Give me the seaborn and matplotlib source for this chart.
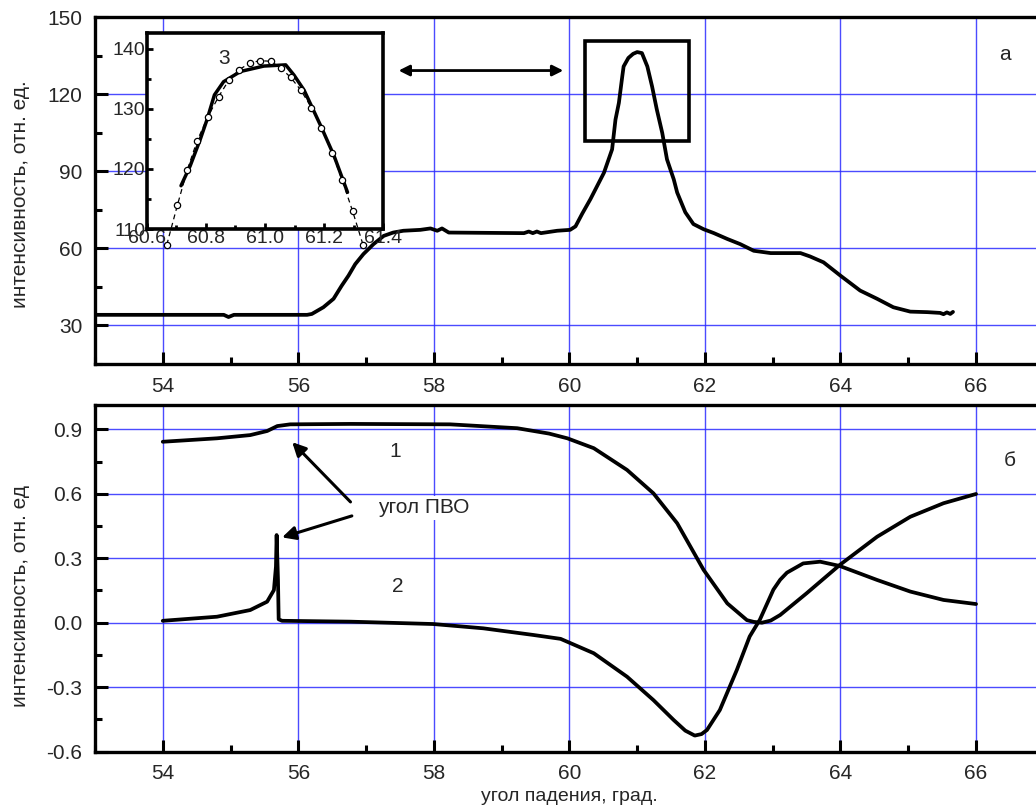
import matplotlib
matplotlib.use("Agg")
import matplotlib.pyplot as plt
from matplotlib.ticker import MultipleLocator, FixedLocator
from matplotlib.patches import Rectangle
import seaborn as sns

# ---------------- data ----------------
top_x = [53.0, 54.9, 54.97, 55.05, 56.13, 56.2, 56.37, 56.52, 56.64, 56.74, 56.84, 56.96,
         57.11, 57.26, 57.40, 57.55, 57.80, 57.95, 58.05, 58.12, 58.22, 59.33, 59.40, 59.46,
         59.52, 59.58, 59.82, 60.01, 60.09, 60.19, 60.31, 60.51, 60.63, 60.68, 60.73, 60.78,
         60.80, 60.87, 60.94, 61.0, 61.07, 61.15, 61.22, 61.29, 61.37, 61.44, 61.54, 61.59, 61.71,
         61.83, 61.98, 62.13, 62.33, 62.52, 62.72, 62.97, 63.41, 63.55, 63.75, 64.0, 64.29,
         64.54, 64.78, 65.03, 65.28, 65.47, 65.52, 65.57, 65.62, 65.66]
top_y = [34.15, 34.15, 33.3, 34.15, 34.15, 34.5, 37.1, 40.4, 45.5, 49.4, 53.9, 57.8,
         61.7, 64.9, 66.2, 66.9, 67.25, 67.8, 66.9, 67.8, 66.2, 65.97, 66.6, 65.97,
         66.6, 65.97, 66.9, 67.25, 68.6, 73.6, 79.2, 89.5, 98.6, 110.2, 116.7, 127.0,
         130.9, 134.2, 135.8, 136.5, 136.1, 130.9, 123.1, 114.1, 105.0, 94.7, 86.9, 81.8, 74.1,
         69.5, 67.5, 66.0, 63.7, 61.7, 59.1, 58.2, 58.2, 56.9, 54.6, 49.4, 43.6,
         40.4, 37.1, 35.4, 35.2, 34.9, 34.4, 35.1, 34.5, 35.3]

inset_meas_x = [60.668, 60.704, 60.737, 60.770, 60.807, 60.843, 60.877, 60.913, 60.948, 60.983,
                61.019, 61.053, 61.087, 61.121, 61.157, 61.191, 61.227, 61.261, 61.296, 61.332]
inset_meas_y = [107.4, 114.0, 119.8, 124.6, 128.7, 132.0, 134.7, 136.5, 137.6, 138.0,
                137.9, 136.8, 135.2, 133.1, 130.2, 126.8, 122.7, 118.1, 113.0, 107.3]
inset_fit_x = [60.716, 60.747, 60.781, 60.804, 60.829, 60.860, 60.917, 60.996, 61.070,
               61.098, 61.132, 61.189, 61.234, 61.279]
inset_fit_y = [117.2, 120.5, 124.9, 128.2, 132.3, 134.5, 136.2, 137.1, 137.3,
               135.6, 133.1, 127.1, 122.1, 116.1]

r1_x = [54.0, 54.80, 55.29, 55.54, 55.69, 55.88, 56.77, 58.24, 59.23, 59.70, 59.97, 60.36,
        60.85, 61.24, 61.59, 61.98, 62.33, 62.62, 62.72, 62.84, 62.97, 63.11, 63.50, 63.99,
        64.54, 65.03, 65.52, 66.0]
r1_y = [0.842, 0.858, 0.873, 0.892, 0.915, 0.923, 0.925, 0.923, 0.905, 0.880, 0.858, 0.812,
        0.711, 0.602, 0.463, 0.246, 0.090, 0.012, 0.004, 0.0, 0.010, 0.036, 0.137, 0.269,
        0.400, 0.493, 0.556, 0.599]

r2_x = [54.0, 54.80, 55.29, 55.54, 55.64, 55.67, 55.68, 55.70, 55.71, 55.76, 56.77, 57.99,
        58.73, 59.47, 59.87, 60.36, 60.85, 61.24, 61.54, 61.71, 61.85, 61.95, 62.03, 62.22,
        62.47, 62.66, 62.81, 63.01, 63.11, 63.21, 63.45, 63.70, 63.99, 64.54, 65.03, 65.52, 66.0]
r2_y = [0.009, 0.028, 0.059, 0.098, 0.152, 0.261, 0.408, 0.20, 0.016, 0.009, 0.005, -0.006,
        -0.026, -0.057, -0.075, -0.142, -0.251, -0.360, -0.453, -0.502, -0.525, -0.518, -0.499,
        -0.406, -0.220, -0.064, 0.014, 0.154, 0.200, 0.233, 0.276, 0.284, 0.264, 0.199, 0.145,
        0.106, 0.087]

x_ticks = [54, 56, 58, 60, 62, 64, 66]
top_yticks = [30, 60, 90, 120, 150]
bot_yticks = [-0.6, -0.3, 0.0, 0.3, 0.6, 0.9]
bot_ytick_labels = ["-0.6", "-0.3", "0.0", "0.3", "0.6", "0.9"]
inset_xticks = [60.6, 60.8, 61.0, 61.2, 61.4]
inset_xtick_labels = ["60.6", "60.8", "61.0", "61.2", "61.4"]
inset_yticks = [110, 120, 130, 140]

# ---------------- style ----------------
sns.set_theme(style="white")
plt.rcParams["font.family"] = ["Liberation Sans", "DejaVu Sans"]
plt.rcParams["axes.unicode_minus"] = False

W, H = 1036, 807
fig = plt.figure(figsize=(W / 100, H / 100), dpi=100)

def fx(px):
    return px / W

def fy(py):
    return 1 - py / H

left_px, right_px = 95, 1043.8
ax1 = fig.add_axes([fx(left_px), fy(364), fx(right_px - left_px), (364 - 17.4) / H])
ax2 = fig.add_axes([fx(left_px), fy(751.7), fx(right_px - left_px), (751.7 - 405) / H])

GRID = "#2b2bff"
for ax in (ax1, ax2):
    ax.set_facecolor("white")
    ax.set_xlim(53, 67)
    ax.xaxis.set_major_locator(FixedLocator(x_ticks))
    ax.xaxis.set_minor_locator(MultipleLocator(1))
    ax.grid(True, which="major", color=GRID, lw=1.0, alpha=0.85)
    ax.set_axisbelow(True)
    for s in ax.spines.values():
        s.set_linewidth(2.4)
        s.set_color("black")
    ax.tick_params(which="both", direction="in", color="black", width=2.2,
                   bottom=True, left=True, top=False, right=False)
    ax.tick_params(which="major", length=9, labelsize=15, pad=9)
    ax.tick_params(which="minor", length=5)

# top panel
ax1.set_ylim(15, 150)
ax1.yaxis.set_major_locator(FixedLocator(top_yticks))
ax1.yaxis.set_minor_locator(MultipleLocator(15))
sns.lineplot(x=top_x, y=top_y, ax=ax1, color="black", lw=2.7, estimator=None, sort=False)
ax1.set_xlabel("")
ax1.set_ylabel("интенсивность, отн. ед.", fontsize=15)
ax1.yaxis.set_label_coords(-0.068, 0.49)
ax1.text(66.43, 135.4, "а", fontsize=15, ha="center", va="center")
ax1.add_patch(Rectangle((60.226, 101.8), 61.76 - 60.226, 140.96 - 101.8,
                        fill=False, ec="black", lw=2.6, zorder=5))
ax1.annotate("", xy=(57.48, 129.3), xytext=(59.91, 129.3),
             arrowprops=dict(arrowstyle="<|-|>", color="black", lw=2.0,
                             mutation_scale=16, shrinkA=0, shrinkB=0))

# bottom panel
ax2.set_ylim(-0.6, 1.013)
ax2.yaxis.set_major_locator(FixedLocator(bot_yticks))
ax2.set_yticklabels(bot_ytick_labels)
ax2.yaxis.set_minor_locator(MultipleLocator(0.15))
sns.lineplot(x=r1_x, y=r1_y, ax=ax2, color="black", lw=2.7, estimator=None, sort=False)
sns.lineplot(x=r2_x, y=r2_y, ax=ax2, color="black", lw=2.7, estimator=None, sort=False)
ax2.set_ylabel("интенсивность, отн. ед", fontsize=15)
ax2.yaxis.set_label_coords(-0.068, 0.45)
ax2.set_xlabel("угол падения, град.", fontsize=14)
ax2.xaxis.set_label_coords(0.5, -0.105)
ax2.text(57.43, 0.796, "1", fontsize=15, ha="center", va="center")
ax2.text(57.46, 0.167, "2", fontsize=15, ha="center", va="center")
ax2.text(57.85, 0.534, "угол ПВО", fontsize=15, ha="center", va="center",
         bbox=dict(facecolor="white", edgecolor="none", pad=1.5), zorder=6)
ax2.text(66.5, 0.757, "б", fontsize=15, ha="center", va="center")
arrow_kw = dict(arrowstyle="-|>", color="black", lw=2.2, mutation_scale=20,
                shrinkA=0, shrinkB=0)
ax2.annotate("", xy=(55.91, 0.84), xytext=(56.77, 0.562), arrowprops=arrow_kw)
ax2.annotate("", xy=(55.76, 0.397), xytext=(56.79, 0.497), arrowprops=arrow_kw)

# inset
axi = fig.add_axes([fx(146.7), fy(229), fx(383.3 - 146.7), (229 - 33) / H], zorder=10)
axi.set_facecolor("white")
axi.set_xlim(60.6, 61.4)
axi.set_ylim(110, 142.6)
axi.xaxis.set_major_locator(FixedLocator(inset_xticks))
axi.set_xticklabels(inset_xtick_labels)
axi.xaxis.set_minor_locator(MultipleLocator(0.1))
axi.yaxis.set_major_locator(FixedLocator(inset_yticks))
axi.yaxis.set_minor_locator(MultipleLocator(5))
axi.grid(False)
for s in axi.spines.values():
    s.set_linewidth(2.6)
    s.set_color("black")
axi.tick_params(which="both", direction="in", color="black", width=2.0,
                bottom=True, left=True, top=False, right=False)
axi.tick_params(which="major", length=4, labelsize=14, pad=1)
axi.tick_params(which="minor", length=3)
sns.lineplot(x=inset_fit_x, y=inset_fit_y, ax=axi, color="black", lw=2.5,
             estimator=None, sort=False)
sns.lineplot(x=inset_meas_x, y=inset_meas_y, ax=axi, color="black", lw=0.9,
             estimator=None, sort=False, marker="o", markersize=4.5,
             markerfacecolor="white", markeredgecolor="black", markeredgewidth=0.9,
             clip_on=False)
axi.lines[-1].set_linestyle((0, (4, 3)))
axi.set_xlabel("")
axi.set_ylabel("")
axi.text(60.86, 138.4, "3", fontsize=15, ha="center", va="center")

fig.savefig("out.png", dpi=100)
